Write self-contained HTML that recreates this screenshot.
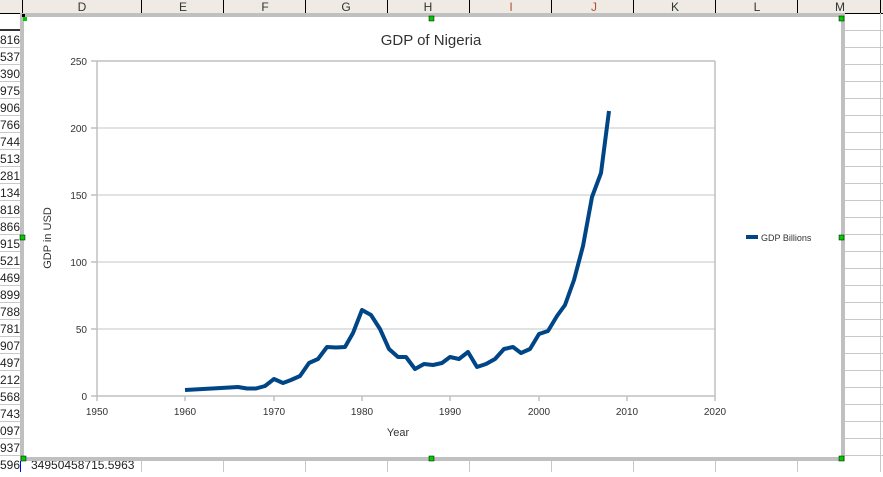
<!DOCTYPE html>
<html><head><meta charset="utf-8"><style>
body{margin:0;width:883px;height:472px;overflow:hidden;background:#fff;font-family:"Liberation Sans",sans-serif;}
</style></head><body>
<svg width="883" height="472" xmlns="http://www.w3.org/2000/svg" font-family="Liberation Sans, sans-serif">
<rect width="883" height="472" fill="#fff"/>
<!-- header -->
<rect x="0" y="0" width="883" height="13" fill="#efebe4"/>
<line x1="0" y1="13.5" x2="883" y2="13.5" stroke="#000"/>
<g stroke="#000" stroke-width="1">
<line x1="22.5" y1="0" x2="22.5" y2="13"/><line x1="141.5" y1="0" x2="141.5" y2="13"/><line x1="223.5" y1="0" x2="223.5" y2="13"/><line x1="305.5" y1="0" x2="305.5" y2="13"/><line x1="387.5" y1="0" x2="387.5" y2="13"/><line x1="469.5" y1="0" x2="469.5" y2="13"/><line x1="551.5" y1="0" x2="551.5" y2="13"/><line x1="633.5" y1="0" x2="633.5" y2="13"/><line x1="715.5" y1="0" x2="715.5" y2="13"/><line x1="797.5" y1="0" x2="797.5" y2="13"/><line x1="880.5" y1="0" x2="880.5" y2="13"/>
</g>
<g font-size="12" fill="#333" text-anchor="middle">
<text x="82" y="11">D</text><text x="183" y="11">E</text><text x="265" y="11">F</text><text x="346" y="11">G</text><text x="428" y="11">H</text><text x="511" y="11" fill="#b05030">I</text><text x="594" y="11" fill="#b05030">J</text><text x="675" y="11">K</text><text x="757" y="11">L</text><text x="840" y="11">M</text>
</g>
<!-- right grid -->
<g stroke="#c8c8c8">
<line x1="845" y1="30.5" x2="883" y2="30.5"/><line x1="845" y1="47.5" x2="883" y2="47.5"/><line x1="845" y1="64.5" x2="883" y2="64.5"/><line x1="845" y1="81.5" x2="883" y2="81.5"/><line x1="845" y1="98.5" x2="883" y2="98.5"/><line x1="845" y1="115.5" x2="883" y2="115.5"/><line x1="845" y1="132.5" x2="883" y2="132.5"/><line x1="845" y1="149.5" x2="883" y2="149.5"/><line x1="845" y1="166.5" x2="883" y2="166.5"/><line x1="845" y1="183.5" x2="883" y2="183.5"/><line x1="845" y1="200.5" x2="883" y2="200.5"/><line x1="845" y1="217.5" x2="883" y2="217.5"/><line x1="845" y1="234.5" x2="883" y2="234.5"/><line x1="845" y1="251.5" x2="883" y2="251.5"/><line x1="845" y1="268.5" x2="883" y2="268.5"/><line x1="845" y1="285.5" x2="883" y2="285.5"/><line x1="845" y1="302.5" x2="883" y2="302.5"/><line x1="845" y1="319.5" x2="883" y2="319.5"/><line x1="845" y1="336.5" x2="883" y2="336.5"/><line x1="845" y1="353.5" x2="883" y2="353.5"/><line x1="845" y1="370.5" x2="883" y2="370.5"/><line x1="845" y1="387.5" x2="883" y2="387.5"/><line x1="845" y1="404.5" x2="883" y2="404.5"/><line x1="845" y1="421.5" x2="883" y2="421.5"/><line x1="845" y1="438.5" x2="883" y2="438.5"/><line x1="845" y1="455.5" x2="883" y2="455.5"/>
<line x1="880.5" y1="13" x2="880.5" y2="472"/>
<line x1="0" y1="47.5" x2="20" y2="47.5"/><line x1="0" y1="64.5" x2="20" y2="64.5"/><line x1="0" y1="81.5" x2="20" y2="81.5"/><line x1="0" y1="98.5" x2="20" y2="98.5"/><line x1="0" y1="115.5" x2="20" y2="115.5"/><line x1="0" y1="132.5" x2="20" y2="132.5"/><line x1="0" y1="149.5" x2="20" y2="149.5"/><line x1="0" y1="166.5" x2="20" y2="166.5"/><line x1="0" y1="183.5" x2="20" y2="183.5"/><line x1="0" y1="200.5" x2="20" y2="200.5"/><line x1="0" y1="217.5" x2="20" y2="217.5"/><line x1="0" y1="234.5" x2="20" y2="234.5"/><line x1="0" y1="251.5" x2="20" y2="251.5"/><line x1="0" y1="268.5" x2="20" y2="268.5"/><line x1="0" y1="285.5" x2="20" y2="285.5"/><line x1="0" y1="302.5" x2="20" y2="302.5"/><line x1="0" y1="319.5" x2="20" y2="319.5"/><line x1="0" y1="336.5" x2="20" y2="336.5"/><line x1="0" y1="353.5" x2="20" y2="353.5"/><line x1="0" y1="370.5" x2="20" y2="370.5"/><line x1="0" y1="387.5" x2="20" y2="387.5"/><line x1="0" y1="404.5" x2="20" y2="404.5"/><line x1="0" y1="421.5" x2="20" y2="421.5"/><line x1="0" y1="438.5" x2="20" y2="438.5"/><line x1="0" y1="455.5" x2="20" y2="455.5"/>
<line x1="141.5" y1="461" x2="141.5" y2="472"/><line x1="223.5" y1="461" x2="223.5" y2="472"/><line x1="305.5" y1="461" x2="305.5" y2="472"/><line x1="387.5" y1="461" x2="387.5" y2="472"/><line x1="469.5" y1="461" x2="469.5" y2="472"/><line x1="551.5" y1="461" x2="551.5" y2="472"/><line x1="633.5" y1="461" x2="633.5" y2="472"/><line x1="715.5" y1="461" x2="715.5" y2="472"/><line x1="797.5" y1="461" x2="797.5" y2="472"/>
</g>
<rect x="0" y="29" width="20" height="2" fill="#333"/>
<g font-size="12" fill="#222">
<text x="0" y="44">816</text><text x="0" y="61">537</text><text x="0" y="78">390</text><text x="0" y="95">975</text><text x="0" y="112">906</text><text x="0" y="129">766</text><text x="0" y="146">744</text><text x="0" y="163">513</text><text x="0" y="180">281</text><text x="0" y="197">134</text><text x="0" y="214">818</text><text x="0" y="231">866</text><text x="0" y="248">915</text><text x="0" y="265">521</text><text x="0" y="282">469</text><text x="0" y="299">899</text><text x="0" y="316">788</text><text x="0" y="333">781</text><text x="0" y="350">907</text><text x="0" y="367">497</text><text x="0" y="384">212</text><text x="0" y="401">568</text><text x="0" y="418">743</text><text x="0" y="435">097</text><text x="0" y="452">937</text><text x="0" y="469">596</text>
<text x="31" y="469">34950458715.5963</text>
</g>
<line x1="20.5" y1="461" x2="20.5" y2="472" stroke="#00f"/>
<!-- chart frame -->
<rect x="22" y="15" width="821" height="444" fill="#fff" stroke="#c0c0c0" stroke-width="4"/>
<rect x="22" y="14" width="3" height="3" fill="#000"/><rect x="23" y="17" width="4" height="4" fill="#0c0"/>
<rect x="429" y="16" width="5" height="5" fill="#0c0" stroke="#000" stroke-width="0.5"/>
<rect x="839" y="16" width="5" height="5" fill="#0c0" stroke="#000" stroke-width="0.5"/>
<rect x="20" y="235" width="5" height="5" fill="#0c0" stroke="#000" stroke-width="0.5"/>
<rect x="839" y="235" width="5" height="5" fill="#0c0" stroke="#000" stroke-width="0.5"/>
<rect x="21" y="456" width="5" height="5" fill="#0c0" stroke="#000" stroke-width="0.5"/>
<rect x="429" y="456" width="5" height="5" fill="#0c0" stroke="#000" stroke-width="0.5"/>
<rect x="839" y="456" width="5" height="5" fill="#0c0" stroke="#000" stroke-width="0.5"/>
<!-- plot -->
<text x="431" y="45" font-size="15" fill="#333" text-anchor="middle">GDP of Nigeria</text>
<g stroke="#d8d8d8" stroke-width="1.5">
<line x1="97" y1="128" x2="715" y2="128"/><line x1="97" y1="195" x2="715" y2="195"/><line x1="97" y1="262" x2="715" y2="262"/><line x1="97" y1="329" x2="715" y2="329"/>
</g>
<g stroke="#c0c0c0" stroke-width="1.5">
<line x1="97" y1="61" x2="715" y2="61"/><line x1="715" y1="61" x2="715" y2="396"/>
<line x1="97" y1="61" x2="97" y2="401"/><line x1="91" y1="396" x2="715" y2="396"/>
<line x1="91" y1="61" x2="97" y2="61"/><line x1="91" y1="128" x2="97" y2="128"/><line x1="91" y1="195" x2="97" y2="195"/><line x1="91" y1="262" x2="97" y2="262"/><line x1="91" y1="329" x2="97" y2="329"/>
<line x1="185" y1="396" x2="185" y2="401"/><line x1="274" y1="396" x2="274" y2="401"/><line x1="362" y1="396" x2="362" y2="401"/><line x1="450" y1="396" x2="450" y2="401"/><line x1="539" y1="396" x2="539" y2="401"/><line x1="627" y1="396" x2="627" y2="401"/><line x1="715" y1="396" x2="715" y2="401"/>
</g>
<g font-size="10" fill="#333" text-anchor="end">
<text x="87" y="65">250</text><text x="87" y="132">200</text><text x="87" y="199">150</text><text x="87" y="266">100</text><text x="87" y="333">50</text><text x="87" y="400">0</text>
</g>
<g font-size="10" fill="#333" text-anchor="middle">
<text x="97" y="415">1950</text><text x="185" y="415">1960</text><text x="274" y="415">1970</text><text x="362" y="415">1980</text><text x="450" y="415">1990</text><text x="539" y="415">2000</text><text x="627" y="415">2010</text><text x="715" y="415">2020</text>
<text x="398" y="436" font-size="11">Year</text>
</g>
<text transform="translate(51,238) rotate(-90)" font-size="11" fill="#333" text-anchor="middle">GDP in USD</text>
<polyline fill="none" stroke="#004586" stroke-width="4" stroke-linejoin="round" points="185,390 203,389 221,388 238,387 247,388.5 256,388.5 265,386 274,379 283,383 291,380 300,376 309,363 318,359 327,347 336,347.5 345,347 353,333 362,310 371,315 380,329 389,349 398,357 406,357 415,369 424,364 433,365 442,363 450,357 459,359 468,352 477,367 486,364 495,359 504,349 513,347 521,353 530,349 539,334 548,331 557,316 565,305 574,280 583,246 592,197 601,173 609,111"/>
<rect x="746" y="235" width="12" height="4" fill="#004586"/>
<text x="761" y="241" font-size="9" fill="#333">GDP Billions</text>
</svg>
</body></html>
